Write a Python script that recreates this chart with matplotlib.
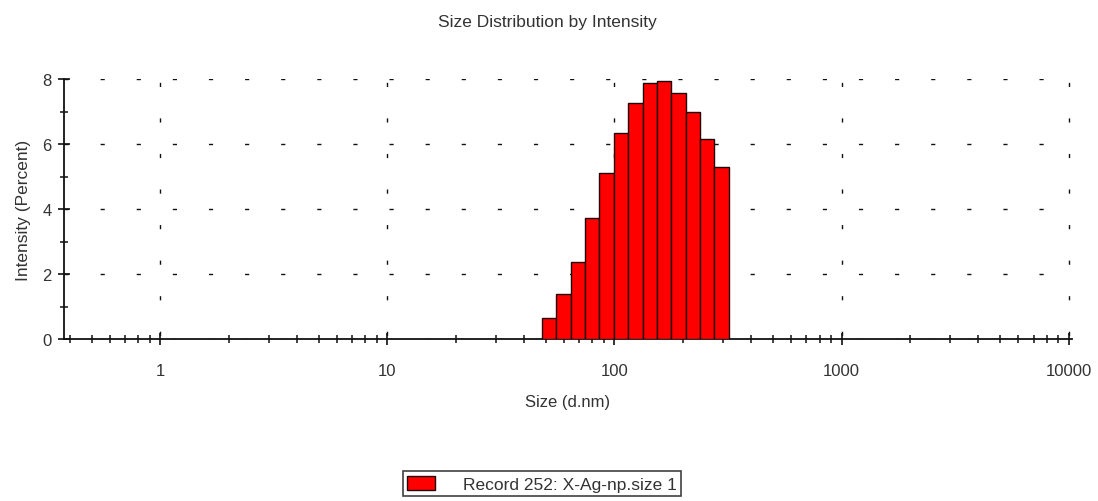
import matplotlib.pyplot as plt
from matplotlib.patches import Patch
from matplotlib.ticker import LogLocator, FixedLocator, NullFormatter

plt.rcParams['font.family'] = ['Liberation Sans', 'DejaVu Sans']

# bin edges (d.nm) and intensity per bin (%)
bin_edges = [47.9, 55.4, 64.1, 74.2, 85.8, 99.3, 114.9, 132.9,
             153.8, 178.0, 206.0, 238.3, 275.6, 318.8]
intensity = [0.65, 1.39, 2.38, 3.73, 5.10, 6.34, 7.26,
             7.88, 7.94, 7.57, 6.97, 6.14, 5.29]
x_ticks = [1, 10, 100, 1000, 10000]
x_labels = ['1', '10', '100', '1000', '10000']
y_ticks = [0, 2, 4, 6, 8]
record = 'Record 252: X-Ag-np.size 1'

fig = plt.figure(figsize=(10.98, 5.02), dpi=100)
ax = fig.add_axes([0.0583, 0.3227, 0.9177, 0.5179])

lefts = bin_edges[:-1]
widths = [b - a for a, b in zip(bin_edges[:-1], bin_edges[1:])]
ax.bar(lefts, intensity, width=widths, align='edge', color='#ff0000',
       edgecolor='#200000', linewidth=1.0, zorder=3)

ax.set_xscale('log')
ax.set_xlim(0.377, 10300)
ax.set_ylim(0, 8)

ax.set_xticks(x_ticks)
ax.set_xticklabels(x_labels)
ax.xaxis.set_minor_locator(LogLocator(base=10, subs=range(2, 10)))
ax.xaxis.set_minor_formatter(NullFormatter())
ax.set_yticks(y_ticks)
ax.yaxis.set_minor_locator(FixedLocator([1, 3, 5, 7]))

for s in ['top', 'right']:
    ax.spines[s].set_visible(False)
for s in ['left', 'bottom']:
    ax.spines[s].set_linewidth(1.3)
    ax.spines[s].set_color('#111111')

ax.tick_params(which='major', direction='inout', length=8, width=1.2,
               labelsize=12, colors='#111111', labelcolor='#333333')
ax.tick_params(which='minor', direction='inout', length=6, width=1.1,
               colors='#111111')
ax.tick_params(axis='x', pad=13)
ax.tick_params(axis='y', pad=5)

ax.grid(True, which='major', axis='y', color='#111111', linewidth=1.0,
        linestyle=(0, (3, 23)), zorder=1)
ax.grid(True, which='major', axis='x', color='#111111', linewidth=1.0,
        linestyle=(23, (3, 22.6)), zorder=1)

fig.text(0.4986, 0.956, 'Size Distribution by Intensity', ha='center',
         va='center', fontsize=12.5, color='#333333')
ax.set_xlabel('Size (d.nm)', fontsize=12, color='#333333', labelpad=12)
ax.set_ylabel('Intensity (Percent)', fontsize=12.5, color='#333333',
              labelpad=8)

handle = Patch(facecolor='#ff0000', edgecolor='#200000', linewidth=1.0)
leg = fig.legend([handle], [record], loc='center',
                 bbox_to_anchor=(0.4936, 0.034), fontsize=12.5,
                 frameon=True, fancybox=False, edgecolor='#111111',
                 handlelength=1.6, handleheight=0.9, handletextpad=1.6,
                 borderpad=0.25, borderaxespad=0)
leg.get_frame().set_linewidth(1.2)
for t in leg.get_texts():
    t.set_color('#333333')

plt.savefig('out.png', dpi=100)
